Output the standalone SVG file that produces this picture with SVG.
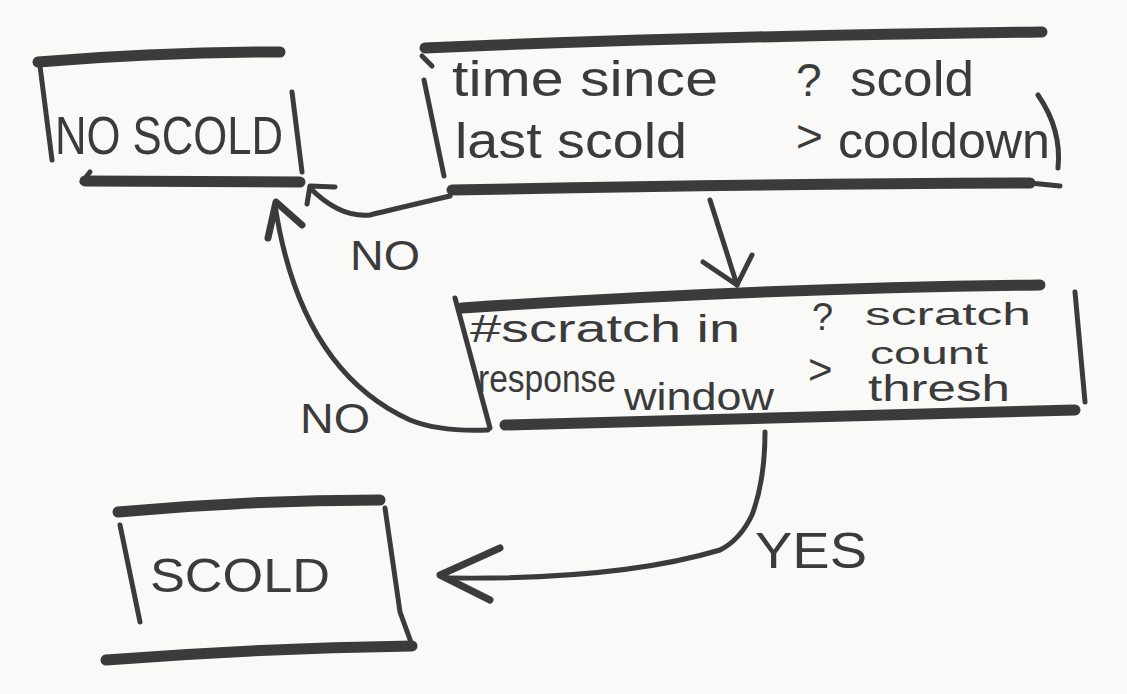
<svg xmlns="http://www.w3.org/2000/svg" width="1127" height="694" viewBox="0 0 1127 694">
<style>
.bg{fill:#f9f9f8}
.thin{fill:none;stroke:#3b3b3b;stroke-width:5;stroke-linecap:round;stroke-linejoin:round}
.thick{fill:none;stroke:#3b3b3b;stroke-width:11;stroke-linecap:round}
.t{font-family:"Liberation Sans",sans-serif;fill:#3b3b3b}
</style>
<rect class="bg" width="1127" height="694"/>
<g id="no-scold">
<path class="thick" d="M38 62 Q160 52 280 52"/>
<path class="thin" d="M40 66 L52 160"/>
<path class="thin" d="M292 92 L302 172"/>
<path class="thin" d="M90 172 L82 182"/>
<path class="thick" d="M85 181 L300 182"/>
<text class="t" x="55" y="154" font-size="54" textLength="228" lengthAdjust="spacingAndGlyphs">NO SCOLD</text>
</g>
<g id="cooldown-check">
<path class="thick" d="M425 48 Q700 36 1042 32"/>
<path class="thin" d="M422 56 L432 66"/>
<path class="thin" d="M424 80 L444 176"/>
<path class="thin" d="M1038 95 Q1062 130 1058 168"/>
<path class="thick" d="M452 190 Q750 184 1030 183"/>
<path class="thin" d="M1030 183 L1060 186"/>
<text class="t" x="452" y="96" font-size="50" textLength="266" lengthAdjust="spacingAndGlyphs">time since</text>
<text class="t" x="455" y="158" font-size="50" textLength="232" lengthAdjust="spacingAndGlyphs">last scold</text>
<text class="t" x="796" y="96" font-size="46">?</text>
<text class="t" x="850" y="96" font-size="50" textLength="124" lengthAdjust="spacingAndGlyphs">scold</text>
<text class="t" x="796" y="152" font-size="46">&gt;</text>
<text class="t" x="838" y="158" font-size="50" textLength="212" lengthAdjust="spacingAndGlyphs">cooldown</text>
</g>
<g id="scratch-check">
<path class="thick" d="M462 308 Q760 288 1040 285"/>
<path class="thin" d="M455 298 L490 428"/>
<path class="thin" d="M1075 292 L1085 402"/>
<path class="thick" d="M505 425 Q800 418 1075 410"/>
<text class="t" x="470" y="342" font-size="38" textLength="270" lengthAdjust="spacingAndGlyphs">#scratch in</text>
<text class="t" x="478" y="392" font-size="38" textLength="138" lengthAdjust="spacingAndGlyphs">response</text>
<text class="t" x="624" y="410" font-size="38" textLength="150" lengthAdjust="spacingAndGlyphs">window</text>
<text class="t" x="812" y="330" font-size="38">?</text>
<text class="t" x="865" y="325" font-size="32" textLength="166" lengthAdjust="spacingAndGlyphs">scratch</text>
<text class="t" x="808" y="384" font-size="42">&gt;</text>
<text class="t" x="870" y="364" font-size="32" textLength="118" lengthAdjust="spacingAndGlyphs">count</text>
<text class="t" x="868" y="401" font-size="36" textLength="142" lengthAdjust="spacingAndGlyphs">thresh</text>
</g>
<g id="scold">
<path class="thick" d="M118 512 Q250 500 380 500"/>
<path class="thin" d="M120 525 L140 622"/>
<path class="thin" d="M385 508 L400 612 L412 645"/>
<path class="thick" d="M106 660 Q260 648 412 646"/>
<text class="t" x="150" y="592" font-size="48" textLength="180" lengthAdjust="spacingAndGlyphs">SCOLD</text>
</g>
<g id="connectors">
<path class="thin" d="M710 200 L737 285"/>
<path class="thin" d="M703 262 L737 285 L752 255"/>
<path class="thin" d="M450 196 Q390 210 370 215 Q340 218 310 188"/>
<path class="thin" d="M307 204 L310 186 L335 187"/>
<path class="thin" d="M488 430 Q440 432 410 420 Q300 370 275 205"/>
<path class="thin" d="M268 238 L276 202 L302 225" style="stroke-width:7"/>
<path class="thin" d="M765 432 Q765 480 752 515 Q740 540 720 550 Q620 580 450 578"/>
<path class="thin" d="M500 548 L440 575 L490 600" style="stroke-width:7"/>
<text class="t" x="350" y="270" font-size="42" textLength="70" lengthAdjust="spacingAndGlyphs">NO</text>
<text class="t" x="300" y="433" font-size="42" textLength="70" lengthAdjust="spacingAndGlyphs">NO</text>
<text class="t" x="755" y="568" font-size="50" textLength="112" lengthAdjust="spacingAndGlyphs">YES</text>
</g>
</svg>
